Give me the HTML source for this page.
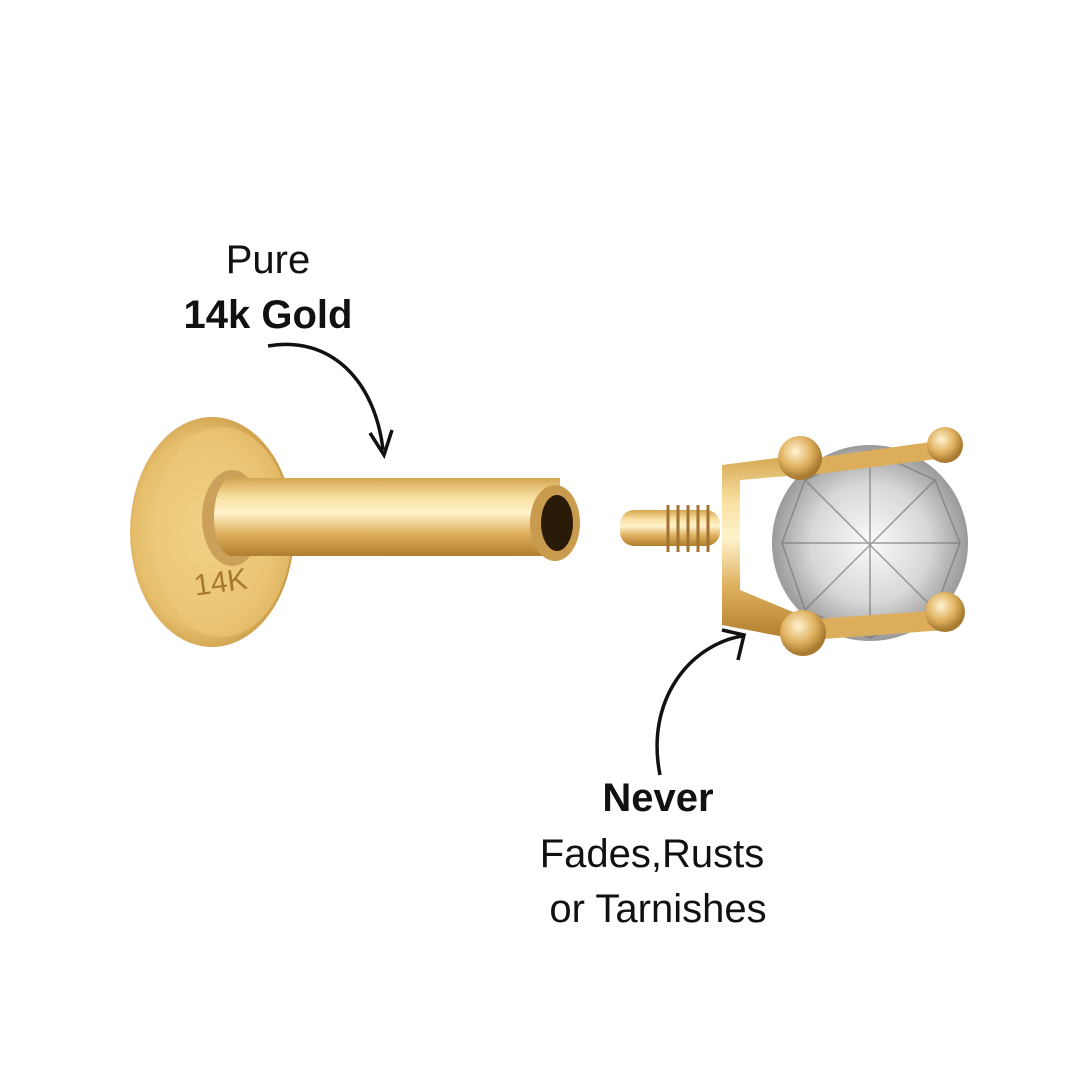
<!DOCTYPE html>
<html><head><meta charset="utf-8"><style>
html,body{margin:0;padding:0;background:#fff}
.t{position:absolute;font-family:"Liberation Sans",sans-serif;color:#111;text-align:center;white-space:nowrap;transform:translateX(-50%);line-height:1}
</style></head><body>
<div style="position:relative;width:1080px;height:1080px;overflow:hidden;background:#fff">
<svg width="1080" height="1080" style="position:absolute;left:0;top:0">
<defs>
<linearGradient id="tube" x1="0" y1="0" x2="0" y2="1">
<stop offset="0" stop-color="#d4a650"/><stop offset="0.25" stop-color="#f8e0a0"/><stop offset="0.45" stop-color="#fff2cc"/><stop offset="0.7" stop-color="#e0b260"/><stop offset="1" stop-color="#b07e2c"/></linearGradient>
<radialGradient id="disc" cx="0.45" cy="0.5" r="0.6">
<stop offset="0" stop-color="#f5dc9c"/><stop offset="0.7" stop-color="#e6be6c"/><stop offset="1" stop-color="#bf8d38"/></radialGradient>
<radialGradient id="gem" cx="0.5" cy="0.5" r="0.5">
<stop offset="0" stop-color="#fafafa"/><stop offset="0.6" stop-color="#d8d8d8"/><stop offset="1" stop-color="#9a9a9a"/></radialGradient>
<radialGradient id="ball" cx="0.4" cy="0.35" r="0.6">
<stop offset="0" stop-color="#fff3d2"/><stop offset="0.6" stop-color="#e0b260"/><stop offset="1" stop-color="#a87a30"/></radialGradient>
</defs>
<ellipse cx="212" cy="532" rx="82" ry="115" fill="url(#disc)"/>
<ellipse cx="222" cy="532" rx="70" ry="105" fill="#ecc878" opacity="0.6"/>
<text x="222" y="592" font-family="Liberation Sans" font-size="30" fill="#a7782f" text-anchor="middle" transform="rotate(-8 222 592)">14K</text>
<ellipse cx="232" cy="518" rx="30" ry="48" fill="#caa05a"/>
<rect x="230" y="478" width="330" height="78" fill="url(#tube)"/>
<ellipse cx="232" cy="517" rx="18" ry="39" fill="url(#tube)"/>
<ellipse cx="555" cy="523" rx="25" ry="38" fill="#c99b4f"/>
<ellipse cx="557" cy="523" rx="16" ry="28" fill="#2a1a08"/>
<rect x="620" y="510" width="100" height="36" rx="14" fill="url(#tube)"/>
<g stroke="#a07233" stroke-width="3">
<line x1="668" y1="505" x2="668" y2="552"/><line x1="678" y1="505" x2="678" y2="552"/><line x1="688" y1="505" x2="688" y2="552"/><line x1="698" y1="505" x2="698" y2="552"/><line x1="708" y1="505" x2="708" y2="552"/></g>
<circle cx="870" cy="543" r="98" fill="url(#gem)"/>
<g stroke="#777" stroke-width="1.5" fill="none" opacity="0.7">
<polygon points="870,450 935,480 960,543 935,610 870,638 805,610 782,543 805,480"/>
<line x1="870" y1="450" x2="870" y2="638"/><line x1="782" y1="543" x2="960" y2="543"/>
<line x1="805" y1="480" x2="935" y2="610"/><line x1="935" y1="480" x2="805" y2="610"/></g>
<path d="M722 465 L800 455 L800 475 L740 480 L740 590 L800 615 L800 640 L722 625 Z" fill="url(#tube)"/>
<path d="M800 460 L945 440 L945 458 L810 475 Z" fill="#dcae5c"/>
<path d="M800 620 L945 610 L945 630 L810 640 Z" fill="#dcae5c"/>
<circle cx="800" cy="458" r="22" fill="url(#ball)"/>
<circle cx="945" cy="445" r="18" fill="url(#ball)"/>
<circle cx="945" cy="612" r="20" fill="url(#ball)"/>
<circle cx="803" cy="633" r="23" fill="url(#ball)"/>
<path d="M268 346 C330 335 375 380 383 450" stroke="#111" stroke-width="3.5" fill="none"/>
<path d="M370 433 L384 455 L392 430" stroke="#111" stroke-width="3.5" fill="none"/>
<path d="M660 775 C645 700 690 645 742 636" stroke="#111" stroke-width="3.5" fill="none"/>
<path d="M722 630 L744 635 L738 660" stroke="#111" stroke-width="3.5" fill="none"/>
</svg>
<div class="t" style="left:268px;top:240px;font-size:40px">Pure</div>
<div class="t" style="left:268px;top:295px;font-size:40px;font-weight:bold">14k Gold</div>
<div class="t" style="left:658px;top:778px;font-size:40px;font-weight:bold">Never</div>
<div class="t" style="left:652px;top:834px;font-size:40px">Fades,Rusts</div>
<div class="t" style="left:658px;top:889px;font-size:40px">or Tarnishes</div>
</div>
</body></html>
